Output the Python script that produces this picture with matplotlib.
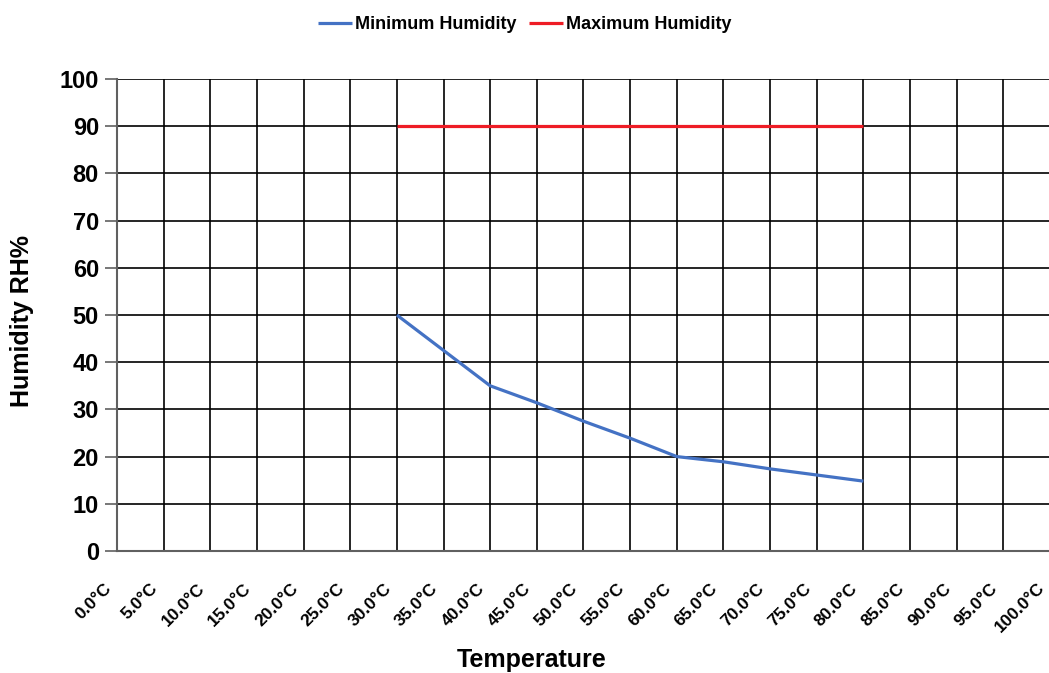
import numpy as np
import matplotlib.pyplot as plt
from matplotlib.transforms import ScaledTranslation

plt.rcParams['font.family'] = ['Liberation Sans', 'DejaVu Sans']
plt.rcParams['font.weight'] = 'bold'

# categories on the x axis
temp_labels = ["%.1f°C" % t for t in range(0, 105, 5)]

# series
temps = [30, 35, 40, 45, 50, 55, 60, 65, 70, 75, 80]
min_humidity = [50, 42.5, 35, 31.4, 27.5, 23.9, 20, 18.9, 17.4, 16.1, 14.8]
max_humidity = [90, 90, 90, 90, 90, 90, 90, 90, 90, 90, 90]

fig = plt.figure(figsize=(10.49, 6.73), dpi=100)
ax = fig.add_axes([0.1115, 0.1813, 0.8894, 0.7013])

xpos = np.array(temps) / 5.0
ax.plot(xpos, min_humidity, color='#4472C4', lw=2.3, label='Minimum Humidity', solid_capstyle='butt')
ax.plot(xpos, max_humidity, color='#EE1C25', lw=2.3, label='Maximum Humidity', solid_capstyle='butt')

ax.set_xlim(0, len(temp_labels) - 1)
ax.set_ylim(0, 100)
ax.set_yticks(np.arange(0, 101, 10))
ax.set_xticks(np.arange(len(temp_labels)))
ax.set_xticklabels(temp_labels, rotation=45, ha='right', va='center',
                   rotation_mode='anchor', fontsize=12.5)
ax.tick_params(axis='x', length=0, pad=25)
ax.tick_params(axis='y', length=9, width=1.2, color='#606060', labelsize=17, pad=4)
shift = ScaledTranslation(-8 / 100, 0, fig.dpi_scale_trans)
for lab in ax.get_xticklabels():
    lab.set_transform(lab.get_transform() + shift)

ax.grid(True, color='black', lw=1.2)
ax.set_axisbelow(True)
for s in ['top', 'right']:
    ax.spines[s].set_visible(False)
for s in ['left', 'bottom']:
    ax.spines[s].set_color('#606060')
    ax.spines[s].set_linewidth(1.5)

fig.text(532 / 1049, 1 - 660 / 673, 'Temperature', fontsize=18, fontweight='bold',
         ha='center', va='center')
fig.text(22 / 1049, 1 - 321 / 673, 'Humidity RH%', fontsize=18, fontweight='bold',
         ha='center', va='center', rotation=90)

fig.legend(loc='upper center', bbox_to_anchor=(0.5, 1.0), ncol=2, frameon=False,
           fontsize=13, handlelength=1.9, handletextpad=0.15, columnspacing=0.7)

fig.savefig('out.png', dpi=100)
